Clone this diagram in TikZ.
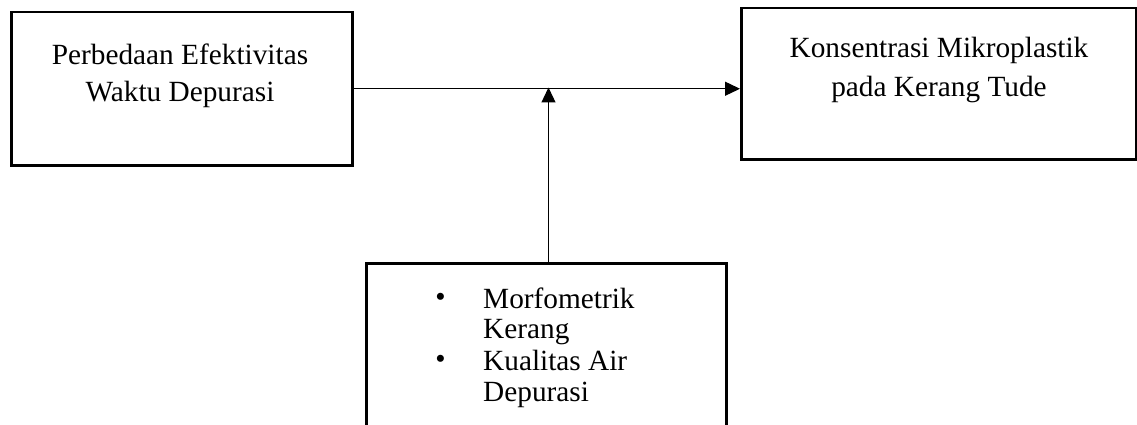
\documentclass[tikz,border=0pt]{standalone}
\usepackage{fontspec}
\setmainfont{Liberation Serif}
\usetikzlibrary{arrows.meta}
\begin{document}
\begin{tikzpicture}[x=1pt,y=-1pt,
  box/.style={draw=black, line width=2.5pt, rectangle, inner sep=0pt, anchor=north west},
  conn/.style={draw=black, line width=1.3pt, -{Triangle[length=15pt,width=14pt]}},
  txt/.style={inner sep=0pt, anchor=base, font=\fontsize{29.3}{35}\selectfont},
  txtl/.style={txt, anchor=base west},
]
\clip (0,0) rectangle (1137,425);
\fill[white] (0,0) rectangle (1137,425);
% boxes
\node[box, minimum width=341pt, minimum height=153pt] (L) at (10,11) {};
\node[box, minimum width=395pt, minimum height=151pt] (R) at (740,7) {};
\node[box, minimum width=360pt, minimum height=190pt] (B) at (365,262) {};
% texts
\node[txt] (l1) at (180,65) {Perbedaan Efektivitas};
\node[txt] (l2) at (180,101.5) {Waktu Depurasi};
\node[txt] (r1) at (939,58) {Konsentrasi Mikroplastik};
\node[txt] (r2) at (939,96.5) {pada Kerang Tude};
\node[txt] (b1) at (440.5,306) {\textbullet};
\node[txtl] (b2) at (483,308) {Morfometrik};
\node[txtl] (b3) at (483,338) {Kerang};
\node[txt] (b4) at (440.5,368) {\textbullet};
\node[txtl] (b5) at (483,370) {Kualitas Air};
\node[txtl] (b6) at (483,401.5) {Depurasi};
% connectors
\coordinate (m) at (548.5,87.5);
\draw[conn] (L.east) -- (L.east -| R.west);
\draw[conn] (B.north -| m) -- (m);
\end{tikzpicture}
\end{document}
